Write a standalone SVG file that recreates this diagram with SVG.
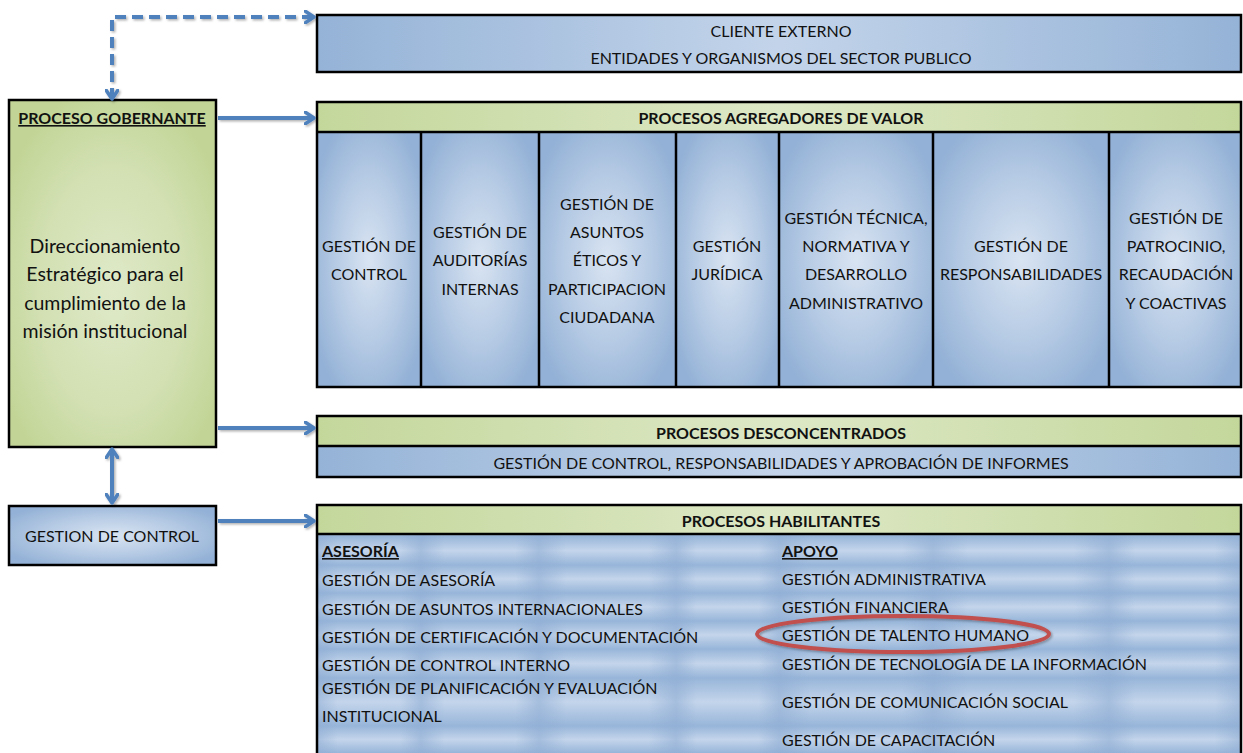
<svg xmlns="http://www.w3.org/2000/svg" width="1243" height="753" viewBox="0 0 1243 753">
  <defs>
    <radialGradient id="blueCell" cx="0.5" cy="0.5" r="0.6">
      <stop offset="0" stop-color="#d9e4f2"/>
      <stop offset="0.55" stop-color="#b5cae4"/>
      <stop offset="1" stop-color="#93b1d6"/>
    </radialGradient>
    <radialGradient id="greenCell" cx="0.5" cy="0.55" r="0.6">
      <stop offset="0" stop-color="#dfe9c8"/>
      <stop offset="0.6" stop-color="#d2e0b2"/>
      <stop offset="1" stop-color="#c2d596"/>
    </radialGradient>
    <linearGradient id="greenBar" x1="0" y1="0" x2="1" y2="0">
      <stop offset="0" stop-color="#c4d79b"/>
      <stop offset="0.5" stop-color="#dde8c6"/>
      <stop offset="1" stop-color="#c4d79b"/>
    </linearGradient>
    <linearGradient id="blueBar" x1="0" y1="0" x2="1" y2="0">
      <stop offset="0" stop-color="#95b3d7"/>
      <stop offset="0.5" stop-color="#c3d4ea"/>
      <stop offset="1" stop-color="#95b3d7"/>
    </linearGradient>
    <linearGradient id="rowBand" x1="0" y1="0" x2="0" y2="1">
      <stop offset="0" stop-color="#97b5d9"/>
      <stop offset="0.5" stop-color="#c4d5eb"/>
      <stop offset="1" stop-color="#97b5d9"/>
    </linearGradient>
    <linearGradient id="cellFade" x1="0" y1="0" x2="1" y2="0">
      <stop offset="0" stop-color="#8eacd3" stop-opacity="0.55"/>
      <stop offset="0.2" stop-color="#8eacd3" stop-opacity="0"/>
      <stop offset="0.8" stop-color="#8eacd3" stop-opacity="0"/>
      <stop offset="1" stop-color="#8eacd3" stop-opacity="0.55"/>
    </linearGradient>
    <marker id="chev" viewBox="0 0 12 14" refX="10" refY="7" markerWidth="12" markerHeight="14" markerUnits="userSpaceOnUse" orient="auto-start-reverse">
      <path d="M1,1 L10,7 L1,13" fill="none" stroke="#4f81bd" stroke-width="3.5" stroke-linecap="round" stroke-linejoin="round"/>
    </marker>
    <filter id="soft" x="-10%" y="-50%" width="120%" height="200%">
      <feDropShadow dx="1.5" dy="1.5" stdDeviation="1.2" flood-color="#000" flood-opacity="0.3"/>
    </filter>
  </defs>
  <style>
    text { font-family: Lato, "Liberation Sans", sans-serif; font-size: 16px; fill: #111; }
    .c { text-anchor: middle; }
    .b { font-weight: bold; }
    .u { text-decoration: underline; }
    .big { font-size: 19.5px; }
    .box { stroke: #000; stroke-width: 2.5; }
    .ln { stroke: #000; stroke-width: 2.5; fill: none; }
    .arr { stroke: #4f81bd; stroke-width: 4; fill: none; marker-end: url(#chev); }
  </style>

  <rect width="1243" height="753" fill="#fff"/>

  <!-- external client -->
  <g id="cliente-externo">
    <rect class="box" x="317" y="15" width="924" height="57" fill="url(#blueBar)"/>
    <text class="c" x="781" y="37">CLIENTE EXTERNO</text>
    <text class="c" x="781" y="64">ENTIDADES Y ORGANISMOS DEL SECTOR PUBLICO</text>
  </g>

  <!-- governing process -->
  <g id="proceso-gobernante">
    <rect class="box" x="9" y="100" width="207" height="347" fill="url(#greenCell)"/>
    <text class="c b u" x="112" y="124">PROCESO GOBERNANTE</text>
    <text class="c big" x="105" y="253">Direccionamiento</text>
    <text class="c big" x="105" y="281">Estratégico para el</text>
    <text class="c big" x="105" y="310">cumplimiento de la</text>
    <text class="c big" x="105" y="338">misión institucional</text>
  </g>

  <!-- value adding processes -->
  <g id="procesos-agregadores">
    <rect x="317" y="102" width="924" height="30" fill="url(#greenBar)"/>
    <rect x="317" y="132" width="104" height="255" fill="url(#blueCell)"/>
    <rect x="421" y="132" width="118" height="255" fill="url(#blueCell)"/>
    <rect x="539" y="132" width="137" height="255" fill="url(#blueCell)"/>
    <rect x="676" y="132" width="103" height="255" fill="url(#blueCell)"/>
    <rect x="779" y="132" width="154" height="255" fill="url(#blueCell)"/>
    <rect x="933" y="132" width="176" height="255" fill="url(#blueCell)"/>
    <rect x="1109" y="132" width="132" height="255" fill="url(#blueCell)"/>
    <rect class="ln" x="317" y="102" width="924" height="285"/>
    <path class="ln" d="M317,132 H1241 M421,132 V387 M539,132 V387 M676,132 V387 M779,132 V387 M933,132 V387 M1109,132 V387"/>
    <text class="c b" x="781" y="124">PROCESOS AGREGADORES DE VALOR</text>
    <text class="c" x="369" y="252">GESTIÓN DE</text>
    <text class="c" x="369" y="280">CONTROL</text>
    <text class="c" x="480" y="238">GESTIÓN DE</text>
    <text class="c" x="480" y="266">AUDITORÍAS</text>
    <text class="c" x="480" y="295">INTERNAS</text>
    <text class="c" x="607" y="210">GESTIÓN DE</text>
    <text class="c" x="607" y="238">ASUNTOS</text>
    <text class="c" x="607" y="266">ÉTICOS Y</text>
    <text class="c" x="607" y="295">PARTICIPACION</text>
    <text class="c" x="607" y="323">CIUDADANA</text>
    <text class="c" x="727" y="252">GESTIÓN</text>
    <text class="c" x="727" y="280">JURÍDICA</text>
    <text class="c" x="856" y="224">GESTIÓN TÉCNICA,</text>
    <text class="c" x="856" y="252">NORMATIVA Y</text>
    <text class="c" x="856" y="280">DESARROLLO</text>
    <text class="c" x="856" y="309">ADMINISTRATIVO</text>
    <text class="c" x="1021" y="252">GESTIÓN DE</text>
    <text class="c" x="1021" y="280">RESPONSABILIDADES</text>
    <text class="c" x="1176" y="224">GESTIÓN DE</text>
    <text class="c" x="1176" y="252">PATROCINIO,</text>
    <text class="c" x="1176" y="280">RECAUDACIÓN</text>
    <text class="c" x="1176" y="309">Y COACTIVAS</text>
  </g>

  <!-- deconcentrated processes -->
  <g id="procesos-desconcentrados">
    <rect x="317" y="416" width="924" height="30" fill="url(#greenBar)"/>
    <rect x="317" y="446" width="924" height="31" fill="url(#blueBar)"/>
    <rect class="ln" x="317" y="416" width="924" height="61"/>
    <path class="ln" d="M317,446 H1241"/>
    <text class="c b" x="781" y="439">PROCESOS DESCONCENTRADOS</text>
    <text class="c" x="781" y="469">GESTIÓN DE CONTROL, RESPONSABILIDADES Y APROBACIÓN DE INFORMES</text>
  </g>

  <!-- control -->
  <g id="gestion-control">
    <rect class="box" x="9" y="506" width="207" height="59" fill="url(#blueCell)"/>
    <text class="c" x="112" y="542">GESTION DE CONTROL</text>
  </g>

  <!-- enabling processes -->
  <g id="procesos-habilitantes">
    <rect x="317" y="505" width="924" height="29" fill="url(#greenBar)"/>
    <rect x="317" y="534" width="924" height="219" fill="#a2bddf"/>
    <g fill="url(#rowBand)">
      <rect x="317" y="536" width="924" height="29"/>
      <rect x="317" y="565" width="924" height="28"/>
      <rect x="317" y="593" width="924" height="28"/>
      <rect x="317" y="621" width="924" height="28"/>
      <rect x="317" y="649" width="924" height="29"/>
      <rect x="317" y="678" width="924" height="48"/>
      <rect x="317" y="726" width="924" height="27"/>
    </g>
    <g fill="url(#cellFade)">
      <rect x="317" y="534" width="104" height="219"/>
      <rect x="421" y="534" width="118" height="219"/>
      <rect x="539" y="534" width="137" height="219"/>
      <rect x="676" y="534" width="103" height="219"/>
      <rect x="779" y="534" width="154" height="219"/>
      <rect x="933" y="534" width="176" height="219"/>
      <rect x="1109" y="534" width="132" height="219"/>
    </g>
    <path class="ln" d="M317,754 V505 H1241 V754 M317,534 H1241"/>
    <text class="c b" x="781" y="527">PROCESOS HABILITANTES</text>
    <text class="b u" x="322" y="557">ASESORÍA</text>
    <text x="322" y="586">GESTIÓN DE ASESORÍA</text>
    <text x="322" y="615">GESTIÓN DE ASUNTOS INTERNACIONALES</text>
    <text x="322" y="643">GESTIÓN DE CERTIFICACIÓN Y DOCUMENTACIÓN</text>
    <text x="322" y="671">GESTIÓN DE CONTROL INTERNO</text>
    <text x="322" y="694">GESTIÓN DE PLANIFICACIÓN Y EVALUACIÓN</text>
    <text x="322" y="722">INSTITUCIONAL</text>
    <text class="b u" x="782" y="557">APOYO</text>
    <text x="782" y="585">GESTIÓN ADMINISTRATIVA</text>
    <text x="782" y="613">GESTIÓN FINANCIERA</text>
    <text x="782" y="641">GESTIÓN DE TALENTO HUMANO</text>
    <text x="782" y="670">GESTIÓN DE TECNOLOGÍA DE LA INFORMACIÓN</text>
    <text x="782" y="708">GESTIÓN DE COMUNICACIÓN SOCIAL</text>
    <text x="782" y="746">GESTIÓN DE CAPACITACIÓN</text>
    <ellipse cx="903" cy="634" rx="146" ry="18" fill="none" stroke="#c0504d" stroke-width="4" filter="url(#soft)"/>
  </g>

  <!-- connectors -->
  <g id="connectors" filter="url(#soft)">
    <path d="M112,99 V17 H314" fill="none" stroke="#4f81bd" stroke-width="4" stroke-dasharray="11,6" marker-start="url(#chev)" marker-end="url(#chev)"/>
    <path class="arr" d="M218,118 H314"/>
    <path class="arr" d="M218,428 H314"/>
    <path class="arr" d="M218,521 H314"/>
    <path class="arr" d="M112,449 V503" marker-start="url(#chev)"/>
  </g>
</svg>
